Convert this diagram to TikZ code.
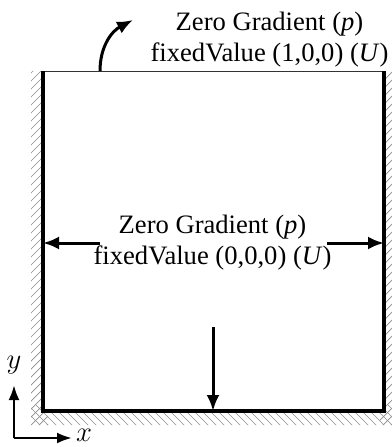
\documentclass[tikz,border=0pt]{standalone}
\usepackage{graphicx}
\usepackage{fontspec}
\setmainfont{Liberation Serif}
\usetikzlibrary{arrows.meta}
\begin{document}
\begin{tikzpicture}[x=1pt,y=-1pt,
  bclabel/.style={align=center,inner sep=0pt,font=\fontsize{26.6}{31.5}\selectfont},
  bcarrow/.style={line width=3pt,-{Latex[length=16pt,width=13pt]}},
  axisarrow/.style={line width=2.6pt,-{Latex[length=15pt,width=11pt]}},
  hatch/.style={draw=black!45,line width=0.7pt},
  wallline/.style={line width=4pt,line join=miter},
  axislabel/.style={inner sep=0pt,font=\fontsize{24.88}{30}\selectfont}]
\useasboundingbox (0,0) rectangle (391,447);

% hatched strips outside the walls
\begin{scope}
  \clip (31,71) rectangle (41,425) (31,413) rectangle (391,425) (386,71) rectangle (395,425);
  \foreach \k in {0,...,50}
    \draw[hatch] (20,60+8*\k) -- ++(28,-28);
  \foreach \k in {0,...,50}
    \draw[hatch] (380,60+8*\k) -- ++(28,-28);
  \foreach \k in {0,...,50}
    \draw[hatch] (20+8*\k,405) -- ++(28,28);
\end{scope}

% cavity corners
\coordinate (tl) at (43,71);
\coordinate (tr) at (384,71);
\coordinate (bl) at (43,411);
\coordinate (br) at (384,411);

% moving lid (thin) and fixed walls (thick)
\draw[line width=1pt,black!80] (tl) -- (tr);
\draw[wallline] (tl) -- (bl) -- (br) -- (tr);

% labels
\node[bclabel] (lid) at (269.5,39.5) {Zero Gradient (\textit{p})\\fixedValue (1,0,0) (\textit{U})};
\node[bclabel] (walls) at (212.5,242.5) {Zero Gradient (\textit{p})\\fixedValue (0,0,0) (\textit{U})};

% arrows pointing to the boundaries
\coordinate (lidfoot) at (100,71);
\coordinate (lidtip) at (133,20);
\draw[bcarrow] (lidfoot) .. controls (100,46) and (112,31) .. (lidtip);

\coordinate (ls) at (100,243);
\coordinate (le) at (43,243);
\coordinate (rs) at (327,243);
\coordinate (re) at (384,243);
\coordinate (bs) at (213,327);
\coordinate (be) at (213,411);
\draw[bcarrow] (ls) -- (le);
\draw[bcarrow] (rs) -- (re);
\draw[bcarrow] (bs) -- (be);

% coordinate axes
\coordinate (o) at (14,438);
\coordinate (ox) at (72,438);
\coordinate (oy) at (14,385);
\draw[axisarrow] (o) -- (ox);
\draw[axisarrow] (o) -- (oy);
\node[axislabel] (xl) at (84,435) {\scalebox{1.15}{$x$}};
\node[axislabel] (yl) at (14,365) {\scalebox{1.15}{$y$}};
\end{tikzpicture}
\end{document}
